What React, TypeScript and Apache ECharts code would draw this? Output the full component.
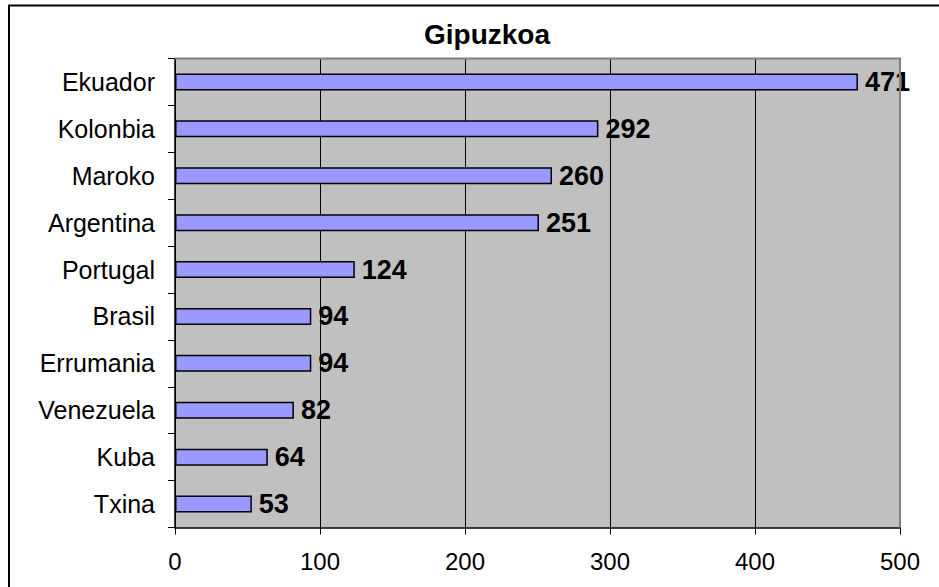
import React, { useEffect, useRef } from "react";
import * as echarts from "echarts";

const categories = ["Ekuador", "Kolonbia", "Maroko", "Argentina", "Portugal", "Brasil", "Errumania", "Venezuela", "Kuba", "Txina"];
const values = [471, 292, 260, 251, 124, 94, 94, 82, 64, 53];
const titleText = "Gipuzkoa";
const xMin = 0;
const xMax = 500;
const xInterval = 100;

export default function App() {
  const ref = useRef<HTMLDivElement>(null);
  useEffect(() => {
    if (!ref.current) return;
    const chart = echarts.init(ref.current, null, { renderer: "svg" });
    const font = "Liberation Sans, Arial, sans-serif";
    chart.setOption({
      animation: false,
      backgroundColor: "#ffffff",
      textStyle: { fontFamily: font },
      title: {
        text: titleText,
        left: 482,
        top: 15,
        textAlign: "center",
        textStyle: { fontSize: 28, fontWeight: "bold", color: "#000", fontFamily: font },
      },
      graphic: [
        {
          type: "polyline",
          shape: { points: [[9, 600], [9, 5.5], [950, 5.5]] },
          style: { stroke: "#000", lineWidth: 2, fill: "none" },
          silent: true,
        },
        {
          type: "polyline",
          shape: { points: [[175, 58.5], [900, 58.5], [900, 527.5]] },
          style: { stroke: "#808080", lineWidth: 2, fill: "none" },
          silent: true,
          z: 10,
        },
      ],
      grid: {
        left: 175,
        right: 39,
        top: 58.5,
        bottom: 59.5,
        show: true,
        backgroundColor: "#C0C0C0",
        borderWidth: 0,
      },
      xAxis: {
        type: "value",
        min: xMin,
        max: xMax,
        interval: xInterval,
        axisLine: { show: true, lineStyle: { color: "#000", width: 1.5 } },
        axisTick: { show: true, length: 7, lineStyle: { color: "#000", width: 1 } },
        axisLabel: { color: "#000", fontSize: 24, margin: 22, fontFamily: font },
        splitLine: { show: true, lineStyle: { color: "#000", width: 1 } },
      },
      yAxis: {
        type: "category",
        data: categories,
        inverse: true,
        axisLine: { show: true, lineStyle: { color: "#000", width: 1.5 } },
        axisTick: { show: true, length: 7, alignWithLabel: false, lineStyle: { color: "#000", width: 1 } },
        axisLabel: { color: "#000", fontSize: 25, margin: 20, fontFamily: font },
        splitLine: { show: false },
      },
      series: [
        {
          type: "bar",
          data: values,
          barWidth: 17,
          itemStyle: { color: "#9999FF", borderColor: "#000", borderWidth: 1.5 },
          label: {
            show: true,
            position: "right",
            distance: 7,
            color: "#000",
            fontSize: 27,
            fontWeight: "bold",
            fontFamily: font,
          },
        },
      ],
    });
    return () => chart.dispose();
  }, []);
  return <div ref={ref} style={{ position: "fixed", left: 0, top: 0, width: 939, height: 587 }} />;
}
